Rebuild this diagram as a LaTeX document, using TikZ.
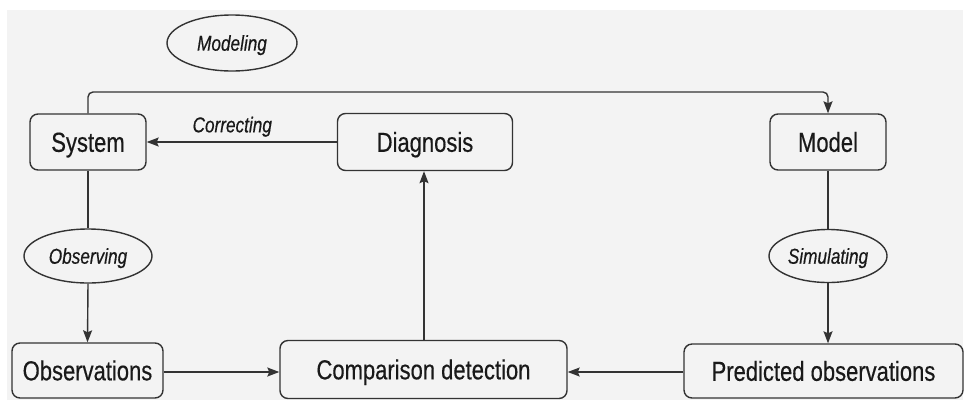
\documentclass[tikz,border=0pt]{standalone}
\usepackage{fontspec}
\setmainfont{Liberation Sans}[FakeStretch=0.8,FakeBold=0.4]
\usetikzlibrary{arrows.meta,shapes.geometric}
\definecolor{bg}{HTML}{F3F3F3}
\definecolor{ln}{HTML}{333333}
\tikzset{
  box/.style={draw=ln, line width=1.4pt, rounded corners=8pt, inner sep=0pt, font=\fontsize{27.5}{30}\selectfont, text=black!90, text height=19.6pt, text depth=0pt},
  oval/.style={draw=ln, line width=1.4pt, ellipse, inner sep=0pt, font=\fontsize{21.5}{24}\selectfont\itshape, text=black!90, text height=15.4pt, text depth=0pt},
  lbl/.style={inner sep=0pt, font=\fontsize{21.5}{24}\selectfont\itshape, text=black!90, text height=15.4pt, text depth=0pt},
  conn/.style={draw=ln, line width=1.4pt},
  arr/.style={conn, -{Stealth[length=12pt,width=9pt,inset=2pt]}}
}
\begin{document}
\begin{tikzpicture}[x=1pt,y=-1pt]
\useasboundingbox (0,0) rectangle (965,400);
\fill[bg] (7,10) rectangle (963,400);
\node[oval, minimum width=130pt, minimum height=56pt] (modeling) at (232,43) {Modeling};
\node[box, minimum width=116pt, minimum height=56pt] (system) at (88,142) {System};
\node[box, minimum width=175pt, minimum height=57pt] (diag) at (425,142) {Diagnosis};
\node[box, minimum width=116pt, minimum height=56pt] (model) at (828,142) {Model};
\node[oval, minimum width=128pt, minimum height=54pt] (observing) at (88,256) {Observing};
\node[oval, minimum width=118pt, minimum height=53pt] (simulating) at (828,256) {Simulating};
\node[box, minimum width=151pt, minimum height=55pt] (obs) at (87.5,370.5) {Observations};
\node[box, minimum width=287pt, minimum height=58pt] (comp) at (423.5,369.5) {Comparison detection};
\node[box, minimum width=279pt, minimum height=54pt] (pred) at (823.5,371) {Predicted observations};
\coordinate (c1) at (88,92);
\coordinate (c2) at (828,92);
\draw[arr, rounded corners=5pt] (system.north) -- (c1) -- (c2) -- (model.north);
\draw[arr] (diag.west) -- node[lbl, above=9pt, pos=0.55] (corr) {Correcting} (system.east);
\draw[conn] (system.south) -- (observing.north);
\draw[arr] (observing.south) -- (obs.north);
\draw[conn] (model.south) -- (simulating.north);
\draw[arr] (simulating.south) -- (pred.north -| simulating.south);
\draw[arr] (obs.east |- 0,372) -- (comp.west |- 0,372);
\draw[arr] (pred.west |- 0,372) -- (comp.east |- 0,372);
\draw[arr] (comp.north -| 424,0) -- (diag.south -| 424,0);
\end{tikzpicture}
\end{document}
